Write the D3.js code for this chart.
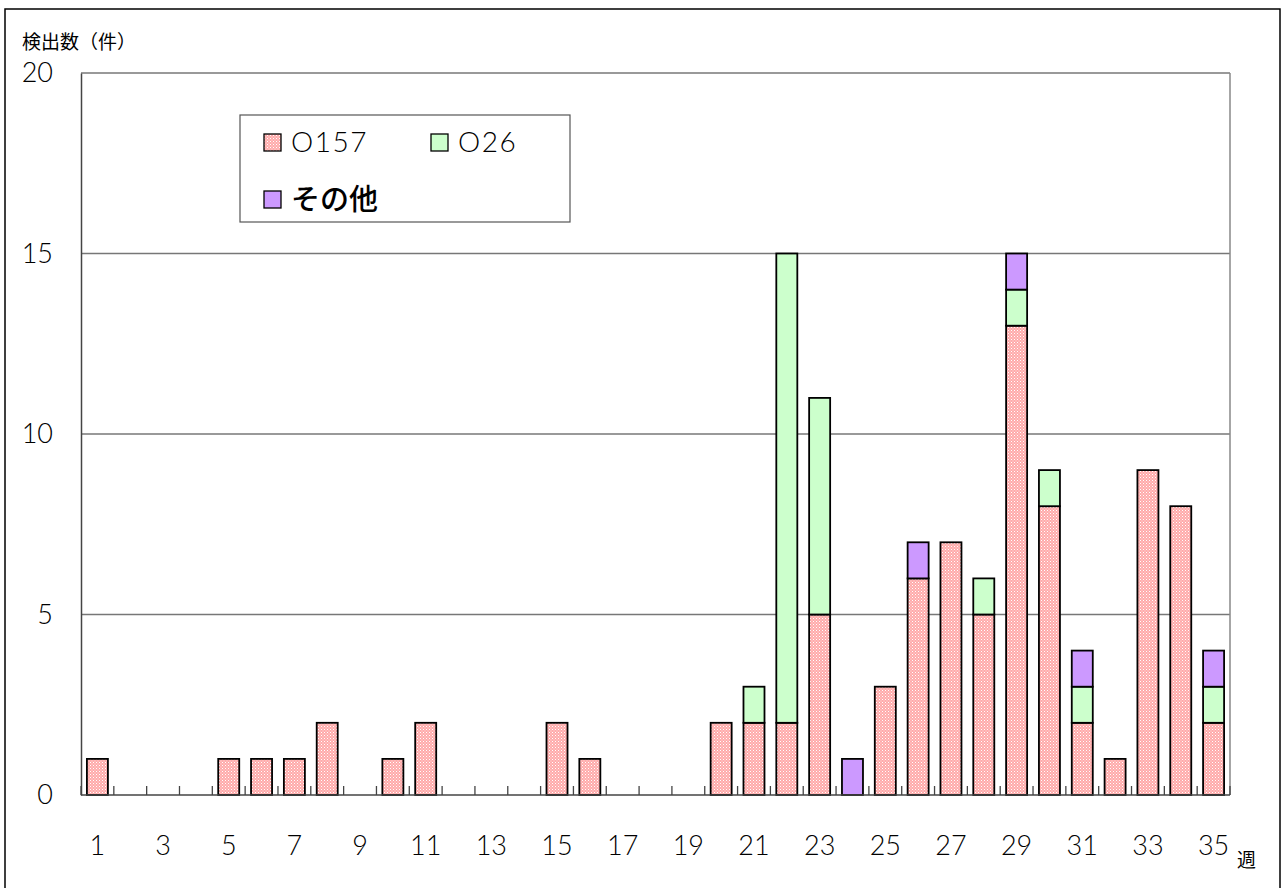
<!DOCTYPE html>
<html>
<head>
<meta charset="utf-8">
<script src="https://cdn.jsdelivr.net/npm/d3@7"></script>
<style>
body { margin: 0; background: #fff; }
text { font-family: Lato, "Noto Sans CJK JP", sans-serif; }
.jp { font-family: "Noto Sans CJK JP", sans-serif; }
</style>
</head>
<body>
<script>
// weeks 1..35
const weeks = d3.range(1, 36)
const o157 = [1,0,0,0,1,1,1,2,0,1,2,0,0,0,2,1,0,0,0,2,2,2,5,0,3,6,7,5,13,8,2,1,9,8,2]
const o26  = [0,0,0,0,0,0,0,0,0,0,0,0,0,0,0,0,0,0,0,0,1,13,6,0,0,0,0,1,1,1,1,0,0,0,1]
const other= [0,0,0,0,0,0,0,0,0,0,0,0,0,0,0,0,0,0,0,0,0,0,0,1,0,1,0,0,1,0,1,0,0,0,1]
const seriesNames = ["O157", "O26", "その他"]
const yTicks = [0, 5, 10, 15, 20]

const margin = {top: 73, right: 52, bottom: 93, left: 81}
, width = 1282 - margin.left - margin.right
, height = 888 - margin.top - margin.bottom

const svg = d3.select('body').append('svg')
    .attr('width', 1282)
    .attr('height', 888)

// dotted pink fill
const defs = svg.append('defs')
const pat = defs.append('pattern')
    .attr('id', 'dots')
    .attr('width', 3).attr('height', 3)
    .attr('patternUnits', 'userSpaceOnUse')
pat.append('rect').attr('width', 3).attr('height', 3).attr('fill', '#ffaaaa')
pat.append('rect').attr('width', 1).attr('height', 1).attr('fill', '#ffffff')
pat.append('rect').attr('x', 1.5).attr('y', 1.5).attr('width', 1).attr('height', 1).attr('fill', '#ffe6e6')

const colors = ['url(#dots)', '#ccffcc', '#cc99ff']

// outer frame
svg.append('rect')
    .attr('x', 5).attr('y', 9)
    .attr('width', 1275).attr('height', 890)
    .attr('fill', 'none').attr('stroke', '#000').attr('stroke-width', 1.5)

const table = weeks.map((w, i) => ({week: w, O157: o157[i], O26: o26[i], 'その他': other[i]}))
const stacked = d3.stack().keys(seriesNames)(table)

const xScale = d3.scaleBand()
    .domain(weeks)
    .range([margin.left, margin.left + width])
    .paddingInner(0.36).paddingOuter(0.18)

const yScale = d3.scaleLinear()
    .domain([0, 20])
    .range([margin.top + height, margin.top])

// grid lines
svg.append('g').selectAll('line').data(yTicks.slice(1))
    .enter().append('line')
    .attr('x1', margin.left).attr('x2', margin.left + width)
    .attr('y1', d => yScale(d)).attr('y2', d => yScale(d))
    .attr('stroke', '#777').attr('stroke-width', 1.3)

// right edge of plot
svg.append('line')
    .attr('x1', margin.left + width).attr('x2', margin.left + width)
    .attr('y1', margin.top).attr('y2', margin.top + height)
    .attr('stroke', '#888').attr('stroke-width', 1.5)

// y axis
const yAxis = svg.append('g')
    .attr('transform', 'translate(' + margin.left + ',0)')
    .call(d3.axisLeft(yScale).tickValues(yTicks).tickSize(0).tickPadding(28))
yAxis.select('.domain').attr('stroke', '#444').attr('stroke-width', 1.5)
yAxis.selectAll('text').attr('font-size', 27).attr('font-weight', 300).attr('fill', '#000')
    .style('font-family', 'Lato, sans-serif')

// bars
svg.append('g').selectAll('g').data(stacked)
    .enter().append('g')
    .attr('fill', (d, i) => colors[i])
    .selectAll('rect').data(d => d.filter(s => s[1] > s[0]))
    .enter().append('rect')
    .attr('x', d => xScale(d.data.week))
    .attr('y', d => yScale(d[1]))
    .attr('width', xScale.bandwidth())
    .attr('height', d => yScale(d[0]) - yScale(d[1]))
    .attr('stroke', '#000').attr('stroke-width', 1.8)

// x axis with ticks between categories
const x0 = margin.left
const tickPos = d3.range(0, weeks.length + 1).map(i => x0 + i * width / weeks.length)
const xg = svg.append('g')
xg.selectAll('line.tick').data(tickPos)
    .enter().append('line')
    .attr('x1', d => d).attr('x2', d => d)
    .attr('y1', margin.top + height - 9).attr('y2', margin.top + height)
    .attr('stroke', '#444').attr('stroke-width', 1.3)
xg.append('line')
    .attr('x1', margin.left).attr('x2', margin.left + width)
    .attr('y1', margin.top + height).attr('y2', margin.top + height)
    .attr('stroke', '#444').attr('stroke-width', 1.5)
xg.selectAll('text').data(weeks.filter(w => w % 2 == 1))
    .enter().append('text')
    .attr('x', d => xScale(d) + xScale.bandwidth() / 2)
    .attr('y', 855)
    .attr('text-anchor', 'middle')
    .attr('font-size', 27)
    .attr('font-weight', 300)
    .style('font-family', 'Lato, sans-serif')
    .text(d => d)

// axis titles
svg.append('text').attr('class', 'jp')
    .attr('x', 22).attr('y', 49)
    .attr('font-size', 19)
    .text('検出数（件）')
svg.append('text').attr('class', 'jp')
    .attr('x', 1237).attr('y', 867)
    .attr('font-size', 19)
    .text('週')

// legend
const legend = svg.append('g')
legend.append('rect')
    .attr('x', 240).attr('y', 115)
    .attr('width', 330).attr('height', 107)
    .attr('fill', '#fff').attr('stroke', '#555').attr('stroke-width', 1.2)
const legPos = [{x: 264, y: 134}, {x: 431, y: 134}, {x: 264, y: 191}]
seriesNames.forEach((name, i) => {
    legend.append('rect')
        .attr('x', legPos[i].x).attr('y', legPos[i].y)
        .attr('width', 17).attr('height', 17)
        .attr('fill', colors[i]).attr('stroke', '#000').attr('stroke-width', 1.3)
    legend.append('text')
        .attr('x', legPos[i].x + 27).attr('y', legPos[i].y + (i == 2 ? 19 : 18))
        .attr('font-size', i == 2 ? 29 : 28)
        .attr('font-weight', i == 2 ? 500 : 300)
        .attr('letter-spacing', i == 2 ? 0 : 1.5)
        .style('font-family', i == 2 ? '"Noto Sans CJK JP", sans-serif' : 'Lato, sans-serif')
        .text(name)
})
</script>
</body>
</html>
